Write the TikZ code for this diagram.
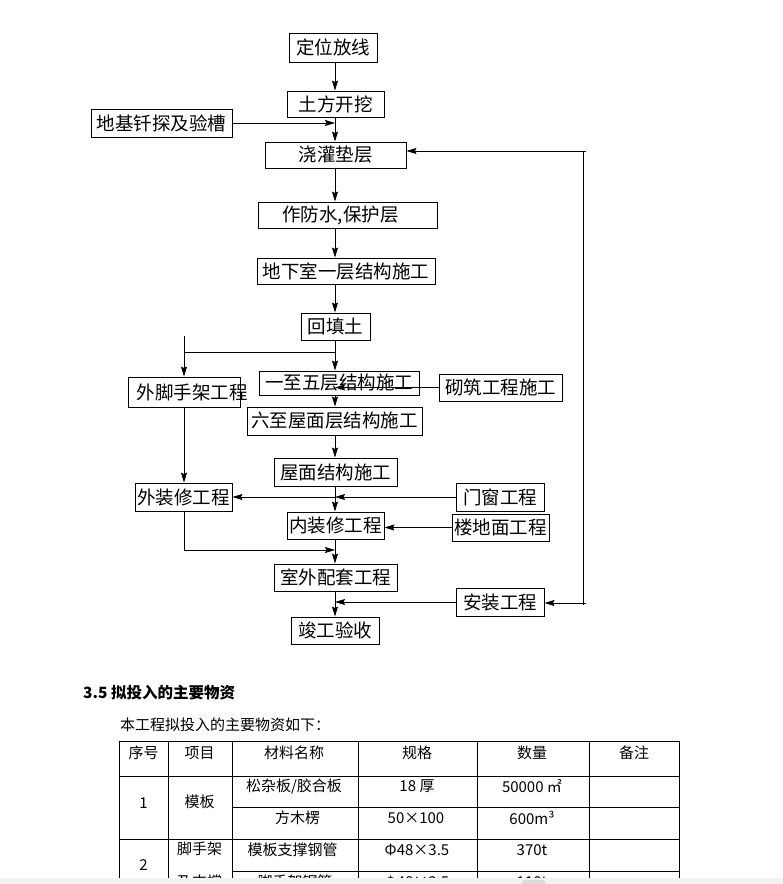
\documentclass[tikz,border=0pt]{standalone}
\usepackage{fontspec}
\setmainfont{Noto Sans CJK SC}
\usetikzlibrary{arrows.meta}
\newcommand{\fctxt}[2][0pt]{\makebox[0pt]{\hspace*{#1}\raisebox{-2pt}{#2}}}
\begin{document}
\begin{tikzpicture}[x=1pt,y=-1pt,
  box/.style={draw,line width=0.9pt,inner sep=0pt,font=\fontsize{18.5}{19}\selectfont},
  arr/.style={line width=0.8pt,-{Stealth[length=10pt,width=6pt,inset=1.5pt]}},
  ln/.style={line width=0.8pt},
  tb/.style={font=\fontsize{15}{16}\selectfont,inner sep=0pt},
  tl/.style={line width=0.9pt}]
\useasboundingbox (0,0) rectangle (783,884);
% ---------- flowchart boxes ----------
\node[box,minimum width=88pt,minimum height=29pt] (dw) at (333,47.5) {\fctxt{定位放线}};
\node[box,minimum width=97pt,minimum height=26pt] (tf) at (335.5,104) {\fctxt{土方开挖}};
\node[box,minimum width=141pt,minimum height=28pt] (dj) at (161.5,123) {\fctxt{地基钎探及验槽}};
\node[box,minimum width=141pt,minimum height=26pt] (jg) at (335.5,155) {\makebox[0pt]{\raisebox{-7pt}{浇灌垫层}}};
\node[box,minimum width=179pt,minimum height=26pt] (fs) at (347.5,215) {\fctxt[-14pt]{作防水,保护层}};
\node[box,minimum width=178pt,minimum height=26pt] (dx) at (346,271) {\fctxt{地下室一层结构施工}};
\node[box,minimum width=69pt,minimum height=27pt] (ht) at (335.5,326.5) {\fctxt{回填土}};
\node[box,minimum width=160pt,minimum height=24pt] (yz) at (339,383) {\fctxt{一至五层结构施工}};
\node[box,minimum width=112pt,minimum height=30pt] (wj) at (184,392) {\fctxt[16pt]{外脚手架工程}};
\node[box,minimum width=123pt,minimum height=27pt] (qz) at (500.5,387.5) {\fctxt{砌筑工程施工}};
\node[box,minimum width=175pt,minimum height=28pt] (lz) at (334.5,421) {\fctxt{六至屋面层结构施工}};
\node[box,minimum width=123pt,minimum height=28pt] (wm) at (335.5,472) {\fctxt{屋面结构施工}};
\node[box,minimum width=97pt,minimum height=28pt] (wz) at (183.5,497) {\fctxt{外装修工程}};
\node[box,minimum width=88pt,minimum height=28pt] (mc) at (500,497) {\fctxt{门窗工程}};
\node[box,minimum width=97pt,minimum height=27pt] (nz) at (335.5,525.5) {\fctxt{内装修工程}};
\node[box,minimum width=97pt,minimum height=27pt] (ld) at (500.5,527.5) {\fctxt{楼地面工程}};
\node[box,minimum width=123pt,minimum height=27pt] (sw) at (335.5,577.5) {\fctxt{室外配套工程}};
\node[box,minimum width=88pt,minimum height=28pt] (az) at (500,602) {\fctxt{安装工程}};
\node[box,minimum width=88pt,minimum height=27pt] (jy) at (335,630.5) {\fctxt{竣工验收}};
% ---------- connectors ----------
\coordinate (cx) at (335,0);
\draw[arr] (dw.south -| cx) -- (tf.north -| cx);
\draw[arr] (tf.south -| cx) -- (jg.north -| cx);
\draw[arr] (dj.east) -- (dj.east -| cx);
\draw[arr] (jg.south -| cx) -- (fs.north -| cx);
\draw[arr] (fs.south -| cx) -- (dx.north -| cx);
\draw[arr] (dx.south -| cx) -- (ht.north -| cx);
\draw[arr] (ht.south -| cx) -- (yz.north -| cx);
\coordinate (sp) at (184,352);
\coordinate (st) at (184,336);
\draw[ln] (sp -| cx) -- (sp);
\draw[arr] (st) -- (wj.north);
\draw[arr] (qz.west) -- (qz.west -| cx);
\draw[arr] (yz.south -| cx) -- (lz.north -| cx);
\draw[arr] (lz.south -| cx) -- (wm.north -| cx);
\draw[arr] (wj.south) -- (wz.north -| wj.south);
\draw[arr] (mc.west) -- (mc.west -| cx);
\draw[arr] (mc.west -| cx) -- (wz.east |- mc.west);
\draw[arr] (wm.south -| cx) -- (nz.north -| cx);
\draw[arr] (ld.west) -- (ld.west -| nz.east);
\coordinate (wb) at (184,550);
\draw[arr] (wz.south -| wj.south) -- (wb) -- (wb -| cx);
\draw[arr] (nz.south -| cx) -- (sw.north -| cx);
\draw[arr] (az.west) -- (az.west -| cx);
\draw[arr] (sw.south -| cx) -- (jy.north -| cx);
\coordinate (rvt) at (583,151);
\coordinate (rvb) at (583,605);
\coordinate (rt) at (586,151);
\coordinate (rb) at (586,603);
\draw[ln] (rvb) -- (rvt);
\draw[arr] (rt) -- (rt -| jg.east);
\draw[arr] (rb) -- (rb -| az.east);
% ---------- heading and text ----------
\node[anchor=west,inner sep=0pt,font=\bfseries\fontsize{15.5}{16}\selectfont] (hd) at (83,693) {3.5 拟投入的主要物资};
\node[anchor=west,inner sep=0pt,font=\fontsize{15}{16}\selectfont] (intro) at (120,725) {本工程拟投入的主要物资如下：};
% ---------- table ----------
\draw[tl] (119,741) -- (679,741);
\draw[tl] (119,776) -- (679,776);
\draw[tl] (232,807) -- (679,807);
\draw[tl] (119,839) -- (679,839);
\draw[tl] (232,871) -- (679,871);
\foreach \xx in {119,168,232,358,477,589,679} \draw[tl] (\xx,741) -- (\xx,884);
\node[tb] (h1) at (143.5,753) {序号};
\node[tb] (h2) at (199.5,753) {项目};
\node[tb] (h3) at (294,753) {材料名称};
\node[tb] (h4) at (417,753) {规格};
\node[tb] (h5) at (532,753) {数量};
\node[tb] (h6) at (634,753) {备注};
\node[tb] (a1) at (143.5,803) {1};
\node[tb] (a2) at (199.5,802) {模板};
\node[tb] (a3) at (294,786) {松杂板/胶合板};
\node[tb] (a4) at (417,786) {18 厚};
\node[tb] (a5) at (532,786) {50000 ㎡};
\node[tb] (b3) at (297.5,818) {方木楞};
\node[tb] (b4) at (416,818) {50×100};
\node[tb] (b5) at (532,818) {600m³};
\node[tb] (c1) at (143.5,865) {2};
\node[tb] (c2) at (199.5,849) {脚手架};
\node[tb] (c3) at (292.5,850) {模板支撑钢管};
\node[tb] (c4) at (417,850) {Φ48×3.5};
\node[tb] (c5) at (532,850) {370t};
\node[tb] (d2) at (199.5,882) {及支撑};
\node[tb] (d3) at (295,882) {脚手架钢管};
\node[tb] (d4) at (417,882) {Φ48×3.5};
\node[tb] (d5) at (532,882) {110t};
% ---------- bottom bar ----------
\fill[black!5] (0,877.5) rectangle (783,884);
\fill[black!14,rounded corners=1.5pt] (522,880) rectangle (545,886);
\end{tikzpicture}
\end{document}
